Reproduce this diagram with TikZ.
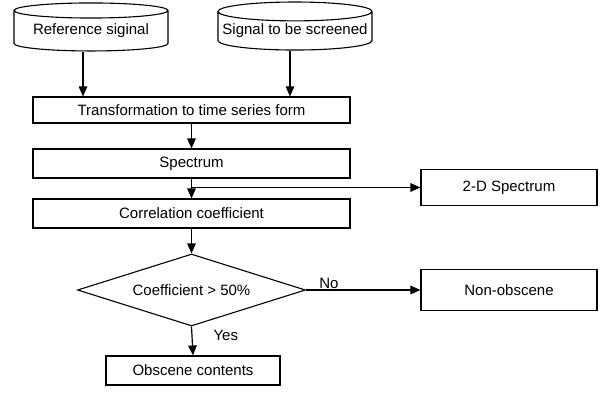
\documentclass[tikz,border=0pt]{standalone}
\usepackage{fontspec}
\setmainfont{Liberation Sans}
\usetikzlibrary{shapes.geometric,arrows.meta}
\tikzset{
  arr/.style={-{Triangle[length=10pt,width=8.5pt]},line width=1.2pt},
  txt/.style={font=\fontsize{15}{17}\selectfont},
  cyl/.style={draw,txt,line width=1.1pt,shape=cylinder,shape border rotate=90,aspect=0.13,
    minimum width=154pt,minimum height=48pt,inner sep=0pt},
  proc/.style={draw,txt,line width=1.1pt,minimum width=317pt,inner sep=0pt},
  side/.style={draw,txt,line width=1.1pt,minimum width=176pt,inner sep=0pt},
  decision/.style={draw,txt,line width=1.1pt,shape=diamond,aspect=3.17,minimum width=228pt,
    minimum height=72pt,inner sep=0pt},
  lbl/.style={txt,inner sep=1pt}
}
\begin{document}
\begin{tikzpicture}[x=1pt,y=-1pt]
  \useasboundingbox (0,0) rectangle (600,397);
  % inputs
  \node[cyl] (ref) at (91,31) {Reference siginal};
  \node[cyl] (scr) at (295,31) {Signal to be screened};
  % processing chain
  \node[proc,minimum height=26pt] (trans) at (191.5,110) {Transformation to time series form};
  \node[proc,minimum height=29pt] (spec) at (191.5,163.5) {Spectrum};
  \node[proc,minimum height=29pt] (corr) at (191.5,213.5) {Correlation coefficient};
  \node[decision] (dec) at (191.5,290) {Coefficient > 50\%};
  \node[draw,txt,line width=1.1pt,minimum width=174pt,minimum height=29pt,inner sep=0pt]
    (obs) at (193,370.5) {Obscene contents};
  % side outputs
  \node[side,minimum height=36pt] (twod) at (509,187.5) {2-D Spectrum};
  \node[side,minimum height=41pt] (non) at (509,290) {Non-obscene};
  % connectors
  \draw[arr] ([xshift=-8pt]ref.south) -- ([xshift=-8pt]ref.south |- trans.north);
  \draw[arr] ([xshift=-5pt]scr.south) -- ([xshift=-5pt]scr.south |- trans.north);
  \draw[arr] (trans.south) -- (spec.north);
  \coordinate (br) at (spec.south |- twod.west);
  \draw[line width=1.2pt] (spec.south) -- (br);
  \draw[arr] (br) -- (corr.north);
  \draw[arr] (br) -- (twod.west);
  \draw[arr] (corr.south) -- (dec.north);
  \draw[arr] (dec.east) -- node[lbl,pos=0.2,above] {No} (non.west);
  \draw[arr] (dec.south) -- node[lbl,pos=0.3,right,xshift=20pt] {Yes} (obs.north);
\end{tikzpicture}
\end{document}
